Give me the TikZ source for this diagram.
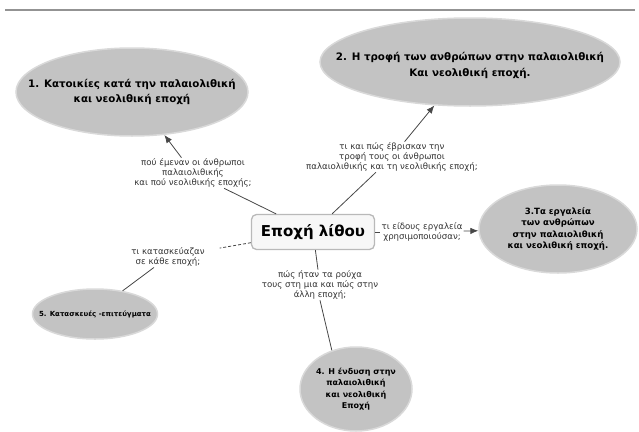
\documentclass[tikz,border=0pt]{standalone}
\usepackage{fontspec}
\setmainfont{DejaVu Sans}
\usepackage{tikz}
\usetikzlibrary{shapes.geometric}
\usetikzlibrary{arrows.meta}

\begin{document}
\begin{tikzpicture}[x=1pt,y=-1pt,
    topic/.style={ellipse,fill=gray!47,draw=gray!30,line width=1.5pt,inner sep=0pt},
    topictext/.style={align=center,inner sep=0pt,font=\bfseries},
    ask/.style={align=center,inner sep=1pt,text=black!80,font=\fontsize{8.6}{9.8}\selectfont},
    link/.style={draw=black!72,line width=0.8pt},
    tip/.style={-{Latex[length=8pt,width=6.5pt]}}]
        \useasboundingbox (0,0) rectangle (639,431);
        \draw[gray!85,line width=1.3pt](5,10)--(635,10);
        \node[topic,minimum width=232,minimum height=88](e1) at (132,92){};
        \node[topictext,font=\fontsize{10.3}{15}\selectfont\bfseries](e1text) at (e1){1. Κατοικίες κατά την παλαιολιθική\\και νεολιθική εποχή};
        \node[topic,minimum width=300,minimum height=88](e2) at (470,62){};
        \node[topictext,font=\fontsize{10.3}{16}\selectfont\bfseries](e2text) at (470,65){2. Η τροφή των ανθρώπων στην παλαιολιθική\\Και νεολιθική εποχή.};
        \node[topic,minimum width=158,minimum height=88](e3) at (558,229){};
        \node[topictext,font=\fontsize{8.6}{11.5}\selectfont\bfseries](e3text) at (e3){3.Τα εργαλεία\\των ανθρώπων\\στην παλαιολιθική\\και νεολιθική εποχή.};
        \node[topic,minimum width=112,minimum height=84](e4) at (356,389){};
        \node[topictext,font=\fontsize{8}{11.5}\selectfont\bfseries](e4text) at (e4){4. Η ένδυση στην\\παλαιολιθική\\και νεολιθική\\Εποχή};
        \node[topic,minimum width=125,minimum height=50](e5) at (95,314){};
        \node[topictext,font=\fontsize{7}{8}\selectfont\bfseries](e5text) at (e5){5. Κατασκευές -επιτεύγματα};
        \node[draw=gray!55,fill=gray!6,rounded corners=5pt,line width=1.3pt,minimum width=123,minimum height=35,font=\fontsize{15}{17}\selectfont\bfseries](epoch) at (313,232){Εποχή λίθου};
        \node[ask](q1) at (193,173){πού έμεναν οι άνθρωποι\\παλαιολιθικής\\και πού νεολιθικής εποχής;};
        \node[ask](q2) at (392,157){τι και πώς έβρισκαν την\\τροφή τους οι άνθρωποι\\παλαιολιθικής και τη νεολιθικής εποχή;};
        \node[ask](q3) at (422,232){τι είδους εργαλεία\\χρησιμοποιούσαν;};
        \node[ask](q4) at (320,285){πώς ήταν τα ρούχα\\τους στη μια και πώς στην\\άλλη εποχή;};
        \node[ask](q5) at (168,257){τι κατασκεύαζαν\\σε κάθε εποχή;};
        \draw[link,tip](q1)--(e1);
        \draw[link](epoch)--(q1);
        \draw[link,tip](q2)--(e2);
        \draw[link](epoch)--(q2);
        \draw[link](epoch)--(q3);
        \draw[link,tip](q3)--(e3);
        \draw[link](epoch)--(q4);
        \draw[link](q4.south)--(e4.122);
        \draw[link,densely dashed,shorten >=14pt](epoch)--(q5);
        \draw[link](q5)--(e5.40);
    \end{tikzpicture}
\end{document}
